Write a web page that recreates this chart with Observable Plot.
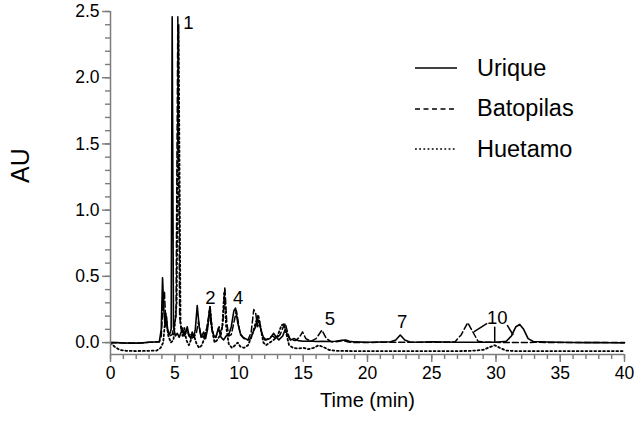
<!DOCTYPE html>
<html><head><meta charset="utf-8">
<script src="https://cdn.jsdelivr.net/npm/d3@7"></script>
<script src="https://cdn.jsdelivr.net/npm/@observablehq/plot@0.6"></script>
<style>
body{margin:0;background:#fff;font-family:"Liberation Sans",Arial,sans-serif;}
#wrap{position:relative;width:638px;height:426px;}
#wrap svg{font-family:"Liberation Sans",Arial,sans-serif;}
#wrap g[aria-label$="tick"]{stroke:#7c7c7c;stroke-width:1.4;}
#legend{position:absolute;left:415px;top:48px;font-size:23.5px;color:#000;}
#legend .row{display:flex;align-items:center;height:40.5px;}
#legend svg{margin-right:20px;}
</style></head><body><div id="wrap"></div>
<script>
// Retention time (min), absorbance (AU)
const urique = [[0,0],[0.5,0],[1,-0.003],[1.5,-0.004],[2,-0.004],[2.5,-0.002],[3,0.003],[3.5,0.005],[3.8,0.008],[3.95,0.1],[4.05,0.49],[4.15,0.25],[4.25,0.12],[4.35,0.2],[4.45,0.08],[4.6,0.06],[4.72,0.1],[4.8,2.46],[4.9,0.12],[5.05,0.05],[5.2,0.07],[5.35,0.04],[5.5,0.08],[5.6,0.11],[5.72,0.05],[5.85,0.07],[5.97,0.12],[6.1,0.06],[6.25,0.03],[6.36,0.08],[6.48,0.04],[6.6,0.1],[6.75,0.28],[6.9,0.12],[7.05,0.04],[7.25,0.08],[7.4,0.03],[7.55,0.1],[7.73,0.27],[7.9,0.1],[8.05,0.05],[8.2,0.04],[8.4,0.11],[8.6,0.04],[8.8,0.02],[9.0,0.05],[9.2,0.06],[9.4,0.12],[9.6,0.24],[9.73,0.26],[9.9,0.15],[10.1,0.07],[10.3,0.04],[10.5,0.03],[10.7,0.02],[10.9,0.03],[11.1,0.08],[11.3,0.12],[11.45,0.18],[11.6,0.14],[11.75,0.08],[11.9,0.04],[12.1,0.02],[12.4,0.03],[12.7,0.07],[12.9,0.04],[13.1,0.02],[13.4,0.05],[13.6,0.1],[13.8,0.05],[14.0,0.02],[14.3,0.03],[14.6,0.015],[15,0.01],[15.5,0.012],[16,0.008],[16.5,0.01],[17,0.008],[17.5,0.01],[18.0,0.018],[18.3,0.02],[18.6,0.01],[19,0.005],[20,0.003],[21,0.004],[21.8,0.006],[22.2,0.02],[22.55,0.057],[22.9,0.02],[23.3,0.004],[24,0.003],[25,0.006],[26,0.004],[27,0.003],[28,0.002],[29,0.002],[30,0.003],[30.8,0.01],[31.2,0.05],[31.55,0.12],[31.85,0.137],[32.15,0.1],[32.5,0.03],[32.9,0.008],[33.5,0.006],[34,0.004],[35,0.002],[36,0.001],[37,0],[38,0],[39,-0.001],[40,-0.002]];

const batopilas = [[0,0],[1,-0.003],[2,-0.004],[3,0.002],[3.8,0.005],[3.95,0.05],[4.1,0.3],[4.2,0.38],[4.3,0.15],[4.45,0.1],[4.6,0.05],[4.8,0.06],[5.1,0.2],[5.24,2.46],[5.38,0.2],[5.5,0.1],[5.65,0.06],[5.8,0.08],[5.95,0.1],[6.1,0.05],[6.3,0.07],[6.5,0.04],[6.7,0.08],[6.85,0.16],[7.0,0.07],[7.2,0.04],[7.45,0.08],[7.7,0.24],[7.85,0.12],[8.0,0.05],[8.2,0.04],[8.45,0.12],[8.6,0.06],[8.75,0.15],[8.9,0.42],[9.05,0.15],[9.2,0.05],[9.4,0.06],[9.6,0.15],[9.8,0.24],[9.95,0.15],[10.1,0.06],[10.4,0.03],[10.7,0.02],[10.95,0.08],[11.15,0.25],[11.3,0.22],[11.45,0.12],[11.6,0.16],[11.8,0.06],[12.0,0.02],[12.3,0.03],[12.6,0.05],[12.9,0.03],[13.2,0.06],[13.45,0.12],[13.6,0.145],[13.8,0.07],[14.0,0.02],[14.4,0.015],[14.7,0.04],[14.95,0.08],[15.2,0.03],[15.6,0.01],[16.0,0.03],[16.45,0.094],[16.8,0.03],[17.2,0.005],[17.7,0.008],[18.1,0.015],[18.5,0.005],[19,0],[20,0],[21,0.002],[22,0.003],[23,0.002],[24,0.002],[25,0.003],[26,0.003],[26.8,0.005],[27.3,0.06],[27.8,0.15],[28.2,0.08],[28.6,0.01],[29,0.003],[30,0.002],[31,0],[32,0],[33,0.002],[34,0.001],[35,0],[36,0],[37,0],[38,0],[39,0],[40,0]];

const huetamo = [[0,0],[0.3,-0.03],[0.7,-0.055],[1.2,-0.062],[2,-0.064],[3,-0.062],[3.6,-0.06],[3.9,-0.04],[4.1,0],[4.3,0.22],[4.5,0.05],[4.7,0],[4.9,0.02],[5.15,0.3],[5.3,2.4],[5.45,0.15],[5.6,0.05],[5.75,0.11],[5.9,0.02],[6.1,-0.02],[6.3,0.03],[6.5,0.05],[6.7,-0.01],[6.9,-0.04],[7.1,-0.02],[7.3,0.03],[7.6,0.15],[7.75,0.27],[7.9,0.1],[8.1,0],[8.3,0.02],[8.5,0.05],[8.7,0.12],[8.85,0.38],[9.0,0.12],[9.2,-0.01],[9.45,-0.04],[9.7,-0.02],[9.9,0],[10.1,-0.03],[10.4,-0.04],[10.7,-0.02],[11.0,0.05],[11.3,0.15],[11.5,0.21],[11.7,0.1],[11.9,0],[12.1,-0.02],[12.4,0],[12.7,0.02],[13.0,0.05],[13.3,0.13],[13.5,0.14],[13.7,0.06],[13.9,-0.02],[14.2,-0.04],[14.6,-0.045],[15.0,-0.04],[15.4,-0.05],[15.8,-0.04],[16.2,-0.02],[16.6,-0.035],[17.0,-0.055],[17.5,-0.062],[18,-0.063],[19,-0.064],[20,-0.064],[21,-0.064],[22,-0.064],[23,-0.064],[24,-0.064],[25,-0.064],[26,-0.064],[27,-0.064],[28,-0.063],[29,-0.055],[29.5,-0.035],[29.9,-0.02],[30.3,-0.04],[30.8,-0.06],[31.5,-0.064],[32,-0.064],[33,-0.064],[34,-0.064],[35,-0.064],[36,-0.064],[37,-0.064],[38,-0.064],[39,-0.064],[40,-0.064]];

const seriesNames = ["Urique", "Batopilas", "Huetamo"];
const seriesDash = [null, "6,3", "1.8,2.6"];
const seriesWidth = [1.6, 1.5, 1.8];
const legendDash = [null, "5,3.5", "1.8,2.4"];

const xMajor = [0, 5, 10, 15, 20, 25, 30, 35, 40];
const yMajor = [0, 0.5, 1.0, 1.5, 2.0, 2.5];
const xMinor = d3.range(0, 41, 1);
const yMinor = d3.range(0, 26, 1).map(d => d / 10);

const peakLabels = [
  {label: "1", t: 6.07, v: 2.415},
  {label: "2", t: 7.78, v: 0.333},
  {label: "4", t: 9.94, v: 0.333},
  {label: "5", t: 17.07, v: 0.175},
  {label: "7", t: 22.7, v: 0.157},
  {label: "10", t: 30.1, v: 0.182}
];
const leaders = [
  {t1: 29.31, v1: 0.145, t2: 28.27, v2: 0.081},
  {t1: 29.9, v1: 0.12, t2: 29.9, v2: 0.004},
  {t1: 30.87, v1: 0.132, t2: 31.34, v2: 0.057}
];

const yMin = -0.09, yMax = 2.5;
const toRows = arr => arr.map(([t, v]) => ({t, v}));
const traces = [urique, batopilas, huetamo];

const plot = Plot.plot({
  width: 638, height: 426,
  marginLeft: 110, marginRight: 14, marginTop: 11, marginBottom: 72,
  x: {domain: [0, 40]},
  y: {domain: [yMin, yMax]},
  marks: [
    ...traces.map((tr, i) => Plot.line(toRows(tr), {x: "t", y: "v", stroke: "black", strokeWidth: seriesWidth[i], strokeDasharray: seriesDash[i]})),
    Plot.ruleX([0], {y1: yMin, y2: yMax, stroke: "#7c7c7c", strokeWidth: 1.5}),
    Plot.ruleY([yMin], {x1: 0, x2: 40, stroke: "#7c7c7c", strokeWidth: 1.5}),
    Plot.axisX(xMinor, {tickSize: 5, tickFormat: () => "", label: null}),
    Plot.axisX(xMajor, {tickSize: 8, tickPadding: 4, fontSize: 17.5, label: null, tickFormat: d3.format("d")}),
    Plot.axisY(yMinor, {tickSize: 5, tickFormat: () => "", label: null}),
    Plot.axisY(yMajor, {tickSize: 8, tickPadding: 3, fontSize: 17.5, label: null, tickFormat: d3.format(".1f")}),
    Plot.text(peakLabels, {x: "t", y: "v", text: "label", fontSize: 18.5, fill: "black"}),
    Plot.link(leaders, {x1: "t1", y1: "v1", x2: "t2", y2: "v2", stroke: "black", strokeWidth: 1.5}),
    Plot.text(["Time (min)"], {frameAnchor: "bottom", dy: 52, fontSize: 20, fill: "black"}),
    Plot.text(["AU"], {frameAnchor: "left", dx: -90, rotate: -90, fontSize: 25, fill: "black"})
  ]
});
const wrap = document.getElementById("wrap");
wrap.appendChild(plot);

const legend = document.createElement("div");
legend.id = "legend";
seriesNames.forEach((name, i) => {
  const row = document.createElement("div");
  row.className = "row";
  row.innerHTML = `<svg width="42" height="6"><line x1="0" y1="3" x2="42" y2="3" stroke="black" stroke-width="1.6" ${legendDash[i] ? `stroke-dasharray="${legendDash[i]}"` : ""}/></svg><span>${name}</span>`;
  legend.appendChild(row);
});
wrap.appendChild(legend);
</script></body></html>
